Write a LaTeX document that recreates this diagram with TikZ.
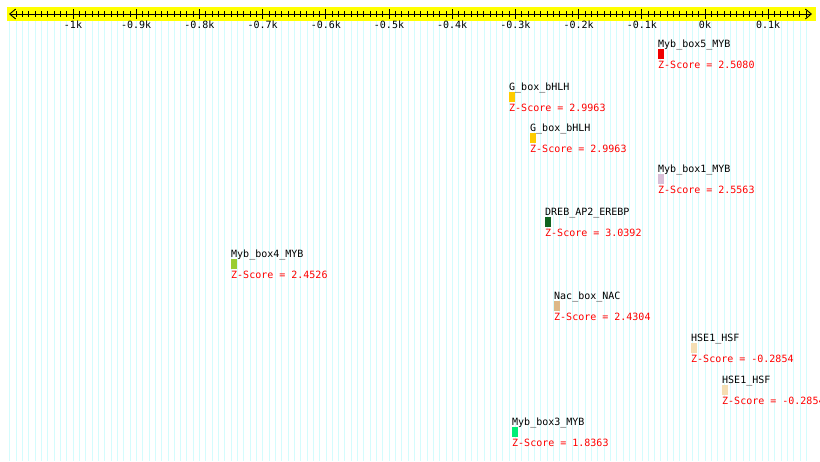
\documentclass[tikz,border=0pt]{standalone}
\usepackage{fontspec}
\setmonofont{DejaVu Sans Mono}
\usetikzlibrary{arrows.meta}
\begin{document}
\begin{tikzpicture}[x=1pt, y=-1pt, font=\ttfamily\fontsize{10}{12}\selectfont,
    motif/.style={black, anchor=base west, inner sep=0pt},
    zscore/.style={red, anchor=base west, inner sep=0pt},
    ticklabel/.style={black, anchor=base, inner sep=0pt}]
    % Colours of the page and of the motif bars
    \definecolor{gridcyan}{RGB}{212,252,253}
    \definecolor{bandyellow}{RGB}{255,255,0}
    \definecolor{mybred}{RGB}{240,0,0}
    \definecolor{gboxgold}{RGB}{255,204,0}
    \definecolor{mybthistle}{RGB}{216,191,216}
    \definecolor{drebgreen}{RGB}{16,100,32}
    \definecolor{mybygreen}{RGB}{154,205,50}
    \definecolor{nactan}{RGB}{222,184,135}
    \definecolor{hsewheat}{RGB}{245,222,179}
    \definecolor{mybspring}{RGB}{0,238,118}

    \useasboundingbox (0,0) rectangle (820,461);

    % 1. Vertical grid (one line every 10 bp)
    \foreach \i in {-110,...,16} {
        \draw[gridcyan, line width=0.6pt] ({705+\i*6.32},21) -- ({705+\i*6.32},461);
    }

    % 2. Yellow band with the bp axis
    \fill[bandyellow] (7,7) rectangle (816,21);
    \draw[line width=0.9pt, {Straight Barb[length=6pt, width=10pt]}-{Straight Barb[length=6pt, width=10pt]}]
        (9,14) -- (812,14);
    \foreach \i in {-109,...,16} {
        \draw[line width=0.7pt] ({705+\i*6.32},11) -- ({705+\i*6.32},17);
    }
    \foreach \k/\lab in {-10/-1k, -9/-0.9k, -8/-0.8k, -7/-0.7k, -6/-0.6k, -5/-0.5k,
                         -4/-0.4k, -3/-0.3k, -2/-0.2k, -1/-0.1k, 0/0k, 1/0.1k} {
        \draw[line width=0.9pt] ({705+\k*63.2},9) -- ({705+\k*63.2},19);
        \node[ticklabel] (t\k) at ({705+\k*63.2},28) {\lab};
    }

    % 3. Motifs: bar, name above, score below
    \foreach \n/\x/\y/\name/\col/\z in {
        1/658/49/Myb\_box5\_MYB/mybred/2.5080,
        2/509/92/G\_box\_bHLH/gboxgold/2.9963,
        3/530/133/G\_box\_bHLH/gboxgold/2.9963,
        4/658/174/Myb\_box1\_MYB/mybthistle/2.5563,
        5/545/217/DREB\_AP2\_EREBP/drebgreen/3.0392,
        6/231/259/Myb\_box4\_MYB/mybygreen/2.4526,
        7/554/301/Nac\_box\_NAC/nactan/2.4304,
        8/691/343/HSE1\_HSF/hsewheat/-0.2854,
        9/722/385/HSE1\_HSF/hsewheat/-0.2854,
        10/512/427/Myb\_box3\_MYB/mybspring/1.8363} {
        \fill[\col] (\x,\y) rectangle ++(5.5,10);
        \node[motif] (m\n) at (\x,{\y-2}) {\name};
        \node[zscore] (z\n) at (\x,{\y+19}) {Z-Score = \z};
    }
\end{tikzpicture}
\end{document}
